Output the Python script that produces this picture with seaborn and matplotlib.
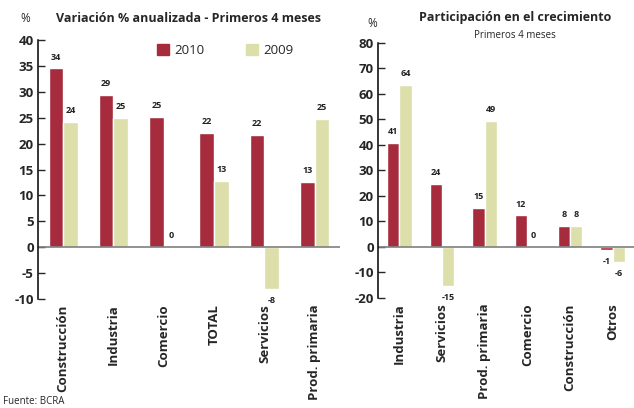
import pandas as pd
import matplotlib.pyplot as plt
import seaborn as sns
from matplotlib.patches import Patch

# data - left chart (variacion % anualizada)
cats_var = ["Construcción", "Industria", "Comercio", "TOTAL", "Servicios", "Prod. primaria"]
var_2010 = [34.5, 29.4, 25.2, 22.1, 21.7, 12.6]
var_2009 = [24.1, 25.0, 0.0, 12.7, -8.1, 24.8]

# data - right chart (participacion en el crecimiento)
cats_par = ["Industria", "Servicios", "Prod. primaria", "Comercio", "Construcción", "Otros"]
par_2010 = [40.8, 24.5, 15.4, 12.3, 8.3, -1.2]
par_2009 = [63.6, -15.3, 49.4, 0.0, 8.3, -5.8]

years = ["2010", "2009"]
colors = ["#A62B3C", "#DCDFA9"]

sns.set_style("white")
plt.rcParams["font.family"] = ["Open Sans", "DejaVu Sans"]
plt.rcParams["axes.unicode_minus"] = False


def long_df(cats, v10, v09):
    return pd.DataFrame({
        "cat": cats * 2,
        "year": ["2010"] * len(cats) + ["2009"] * len(cats),
        "val": v10 + v09,
    })


def draw(ax, cats, v10, v09, ylim, step):
    df = long_df(cats, v10, v09)
    sns.barplot(data=df, x="cat", y="val", hue="year", hue_order=years,
                palette=colors, width=0.58, ax=ax, saturation=1, legend=False)
    for cont, vals in zip(ax.containers, [v10, v09]):
        ax.bar_label(cont, labels=[f"{round(v):d}" for v in vals], padding=5,
                     fontsize=6.5, fontweight="bold", color="#222222")
    ax.set_ylim(*ylim)
    ax.set_yticks(range(ylim[0], ylim[1] + 1, step))
    ax.set_xlim(-0.5, len(cats) - 0.5)
    ax.axhline(0, color="#7f7f7f", lw=1.2)
    sns.despine(ax=ax, bottom=True)
    ax.spines["left"].set_color("black")
    ax.spines["left"].set_linewidth(1.1)
    ax.tick_params(axis="y", direction="in", length=5, width=1, labelsize=9.5, pad=3, left=True)
    ax.tick_params(axis="x", length=0, labelsize=9.5, pad=4)
    ax.set_xticks(range(len(cats)))
    ax.set_xticklabels(cats, rotation=90, fontweight="bold", va="top")
    for t in ax.get_yticklabels():
        t.set_fontweight("bold")
    ax.set_xlabel("")
    ax.set_ylabel("")


fig = plt.figure(figsize=(6.34, 4.08), dpi=100)
ax1 = fig.add_axes([0.06, 0.267, 0.476, 0.635])
ax2 = fig.add_axes([0.596, 0.27, 0.404, 0.625])

draw(ax1, cats_var, var_2010, var_2009, (-10, 40), 5)
draw(ax2, cats_par, par_2010, par_2009, (-20, 80), 10)

# legend on left chart
handles = [Patch(color=c, label=y) for c, y in zip(colors, years)]
ax1.legend(handles=handles, ncol=2, frameon=False, loc="upper center",
           bbox_to_anchor=(0.62, 1.03), fontsize=9.5, handlelength=0.9,
           handleheight=0.9, columnspacing=3.2, handletextpad=0.4)

# titles
fig.text(0.297, 0.955, "Variación % anualizada - Primeros 4 meses", ha="center",
         va="center", fontsize=9, fontweight="bold")
fig.text(0.04, 0.955, "%", ha="center", va="center", fontsize=8.5)
fig.text(0.812, 0.958, "Participación en el crecimiento", ha="center",
         va="center", fontsize=9, fontweight="bold")
fig.text(0.812, 0.912, "Primeros 4 meses", ha="center", va="center", fontsize=7)
fig.text(0.587, 0.943, "%", ha="center", va="center", fontsize=8.5)
fig.text(0.004, 0.015, "Fuente: BCRA", ha="left", va="center", fontsize=7)

fig.savefig("out.png", dpi=100)
